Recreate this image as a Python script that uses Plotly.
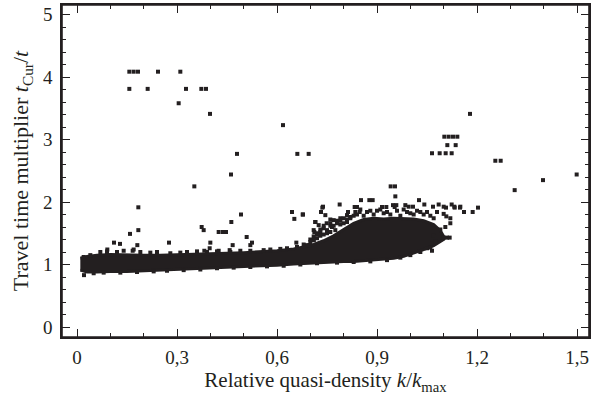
import plotly.graph_objects as go

INK = "#231f20"
FONT = "Liberation Serif"

# Dense core of the cloud: envelope read per density value (lower / upper edge of the solid mass)
core_k = [0.01, 0.03, 0.06, 0.10, 0.15, 0.20, 0.25, 0.30, 0.35, 0.40, 0.45, 0.50, 0.55,
          0.60, 0.65, 0.68, 0.71, 0.74, 0.77, 0.80, 0.83, 0.86, 0.89, 0.92, 0.95, 0.98,
          1.01, 1.04, 1.07, 1.09, 1.10]
core_hi = [1.10, 1.13, 1.15, 1.16, 1.16, 1.15, 1.15, 1.16, 1.17, 1.17, 1.18, 1.19, 1.20,
           1.22, 1.25, 1.28, 1.32, 1.38, 1.46, 1.56, 1.66, 1.72, 1.74, 1.73, 1.74, 1.74,
           1.73, 1.70, 1.64, 1.54, 1.45]
core_lo = [0.91, 0.88, 0.88, 0.89, 0.89, 0.90, 0.91, 0.92, 0.93, 0.95, 0.96, 0.97, 0.98,
           0.99, 1.01, 1.02, 1.03, 1.04, 1.04, 1.05, 1.05, 1.06, 1.07, 1.08, 1.10, 1.13,
           1.18, 1.24, 1.30, 1.36, 1.40]

# Scattered points around the edge of the cloud
fringe_k = [0.021, 0.184, 0.184, 0.159, 0.111, 0.129, 0.276, 0.181, 0.170, 0.167, 0.091, 0.090,
            0.492, 0.374, 0.380, 0.425, 0.438, 0.447, 0.463, 0.645, 0.652, 0.678, 0.509, 0.525,
            0.520, 0.400, 0.398, 0.467, 0.458, 0.658, 0.715, 0.712, 0.725, 0.720, 0.710, 0.697,
            0.382, 0.425,
            0.738, 0.833, 0.840, 0.915, 0.928, 0.953, 0.813, 0.835, 0.848, 0.715, 0.745, 0.749,
            0.710, 0.730, 0.765, 0.775, 0.710, 0.690, 0.770, 0.790, 0.810,
            1.100, 1.132, 1.150, 0.948, 0.958, 0.985, 0.995, 1.008, 1.068, 1.080, 1.100, 1.108,
            1.120, 1.120, 1.105, 1.090, 1.080, 1.070, 1.080, 1.100, 1.110, 1.118, 1.065, 1.050,
            1.065, 1.075,
            0.02, 0.04, 0.07, 0.09, 0.12, 0.14, 0.19, 0.22, 0.24, 0.28, 0.31, 0.33, 0.36, 0.39,
            0.42, 0.46, 0.49, 0.52, 0.56, 0.58, 0.61, 0.63, 0.66,
            0.05, 0.08, 0.13, 0.18, 0.23, 0.27, 0.32, 0.37, 0.42, 0.47, 0.52, 0.57, 0.62, 0.67,
            0.72, 0.78, 0.83, 0.88, 0.93, 0.97, 1.00, 1.03, 1.06,
            # rough upper surface of the dense cluster
            0.80, 0.82, 0.84, 0.86, 0.87, 0.89, 0.90, 0.92, 0.94, 0.96, 0.97, 0.99, 1.01, 1.02,
            1.04, 1.05, 1.06, 1.07, 0.85, 0.88, 0.91, 0.93, 0.98, 1.00, 1.03, 0.76, 0.78, 0.74,
            0.73, 0.75, 0.79, 0.81, 0.72, 0.70, 0.68, 0.76,
            # scattered mass on the rising left flank of the cluster
            0.70, 0.72, 0.73, 0.74, 0.75, 0.76, 0.77, 0.78, 0.79, 0.80, 0.81, 0.82, 0.83,
            0.71, 0.74, 0.76]
fringe_t = [0.83, 1.915, 1.55, 1.49, 1.35, 1.33, 1.35, 1.31, 1.24, 1.22, 1.24, 1.20,
            1.80, 1.60, 1.55, 1.52, 1.52, 1.52, 1.68, 1.84, 1.73, 1.80, 1.44, 1.35,
            1.31, 1.35, 1.26, 1.31, 1.23, 1.35, 1.68, 1.52, 1.63, 1.50, 1.39, 1.31,
            1.22, 1.22,
            1.925, 1.92, 1.92, 1.92, 1.92, 1.92, 1.84, 1.84, 1.84, 1.68, 1.79, 1.66,
            1.55, 1.52, 1.60, 1.55, 1.39, 1.31, 1.71, 1.74, 1.79,
            1.925, 1.925, 1.925, 1.95, 1.95, 1.95, 1.925, 1.925, 1.925, 1.84, 1.81, 1.77,
            1.74, 1.66, 1.60, 1.56, 1.52, 1.47, 1.44, 1.43, 1.43, 1.43, 1.34, 1.26,
            1.22, 1.365,
            1.12, 1.15, 1.20, 1.21, 1.20, 1.22, 1.20, 1.19, 1.20, 1.18, 1.19, 1.20, 1.21, 1.20,
            1.21, 1.20, 1.22, 1.22, 1.23, 1.24, 1.25, 1.26, 1.28,
            0.86, 0.87, 0.87, 0.88, 0.89, 0.90, 0.91, 0.92, 0.94, 0.95, 0.96, 0.97, 0.98, 1.00,
            1.02, 1.03, 1.04, 1.05, 1.07, 1.11, 1.15, 1.20, 1.27,
            1.66, 1.76, 1.80, 1.78, 1.84, 1.80, 1.86, 1.82, 1.80, 1.86, 1.78, 1.84, 1.80, 1.86,
            1.80, 1.84, 1.78, 1.74, 1.88, 1.86, 1.88, 1.84, 1.88, 1.82, 1.84, 1.62, 1.66, 1.58,
            1.46, 1.50, 1.70, 1.72, 1.42, 1.36, 1.32, 1.66,
            1.40, 1.48, 1.56, 1.62, 1.55, 1.72, 1.62, 1.70, 1.64, 1.74, 1.68, 1.74, 1.78,
            1.45, 1.48, 1.52]

# Isolated high outliers
outlier_k = [0.157, 0.170, 0.183, 0.243, 0.310,
             0.157, 0.212, 0.327, 0.373, 0.387,
             0.305, 0.399, 0.618,
             0.480, 0.661, 0.695,
             0.462, 0.352,
             1.179,
             1.102, 1.115, 1.128, 1.141,
             1.111, 1.136,
             1.065, 1.088, 1.106, 1.124,
             1.255, 1.271,
             1.499, 1.398, 1.313,
             0.941, 0.954, 0.955,
             0.677, 0.852, 0.877, 0.887, 0.788, 1.026, 1.042, 1.085, 1.107, 1.124, 1.133,
             1.149, 1.161, 1.187, 1.203, 0.736, 0.732]
outlier_t = [4.085, 4.085, 4.085, 4.085, 4.085,
             3.81, 3.81, 3.81, 3.81, 3.81,
             3.58, 3.41, 3.23,
             2.77, 2.77, 2.77,
             2.44, 2.25,
             3.41,
             3.045, 3.045, 3.045, 3.045,
             2.91, 2.91,
             2.78, 2.78, 2.78, 2.78,
             2.66, 2.66,
             2.44, 2.35, 2.19,
             2.25, 2.25, 2.09,
             1.80, 2.03, 2.03, 2.03, 1.96, 2.03, 1.96, 1.96, 1.91, 1.96, 1.91,
             1.91, 1.84, 1.84, 1.91, 1.91, 1.84]

x_ticks = [0, 0.3, 0.6, 0.9, 1.2, 1.5]
x_tick_labels = ["0", "0,3", "0,6", "0,9", "1,2", "1,5"]
y_ticks = [0, 1, 2, 3, 4, 5]
y_tick_labels = ["0", "1", "2", "3", "4", "5"]

fig = go.Figure()

poly_k = core_k + core_k[::-1]
poly_t = core_lo + core_hi[::-1]
fig.add_trace(go.Scatter(x=poly_k, y=poly_t, mode="lines", fill="toself",
                         fillcolor=INK, line=dict(color=INK, width=3),
                         hoverinfo="skip", showlegend=False))

marker = dict(symbol="square", size=4, color=INK, line=dict(width=0))
fig.add_trace(go.Scatter(x=fringe_k, y=fringe_t, mode="markers", marker=marker, showlegend=False))
fig.add_trace(go.Scatter(x=outlier_k, y=outlier_t, mode="markers", marker=marker, showlegend=False))

axis_common = dict(
    showline=True, linecolor=INK, linewidth=1.6, mirror="ticks",
    ticks="inside", ticklen=8, tickwidth=1.4, tickcolor=INK,
    showgrid=False, zeroline=False, automargin=False,
    tickfont=dict(family=FONT, size=19, color=INK),
)

fig.update_xaxes(
    range=[-0.045, 1.536], tickvals=x_ticks, ticktext=x_tick_labels,
    minor=dict(dtick=0.1, tick0=0, ticks="inside", ticklen=4, tickwidth=1.2, tickcolor=INK),
    title=dict(text="Relative quasi-density <i>k</i>/<i>k</i><sub>max</sub>",
               font=dict(family=FONT, size=21, color=INK), standoff=6),
    ticklabelstandoff=2,
    **axis_common,
)
fig.update_yaxes(
    range=[-0.16, 5.152], tickvals=y_ticks, ticktext=y_tick_labels,
    minor=dict(dtick=0.2, tick0=0, ticks="inside", ticklen=4, tickwidth=1.2, tickcolor=INK),
    title=dict(text="Travel time multiplier <i>t</i><sub>Cur</sub>/<i>t</i>",
               font=dict(family=FONT, size=22, color=INK), standoff=8),
    ticklabelstandoff=4,
    **axis_common,
)

fig.add_shape(type="rect", xref="paper", yref="paper", x0=0, y0=0, x1=1, y1=1,
              line=dict(color=INK, width=1.6), layer="above")

fig.update_layout(
    width=592, height=402,
    margin=dict(l=62, r=3, t=5, b=65),
    paper_bgcolor="white", plot_bgcolor="white",
    separators=", ",
    showlegend=False,
)

fig.write_html("out.html", config={"displayModeBar": False},
               post_script="document.body.style.margin='0';document.body.style.overflow='hidden';")
